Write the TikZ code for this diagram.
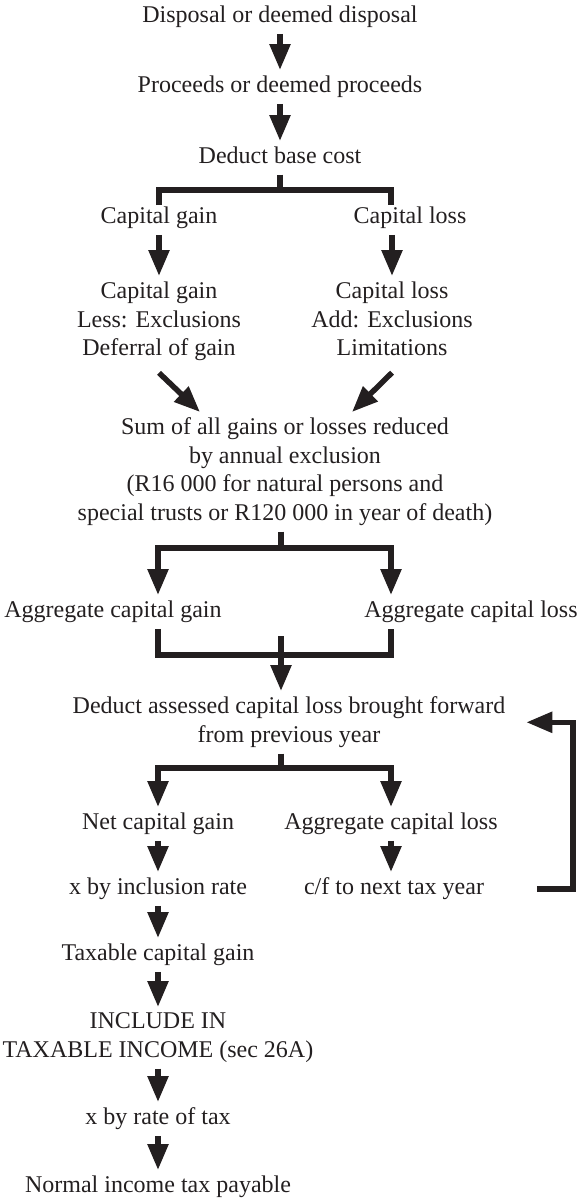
\documentclass[tikz,border=0pt]{standalone}
\usepackage{fontspec}
\setmainfont{Liberation Serif}
\usepackage{xcolor}
\usetikzlibrary{arrows.meta}
\definecolor{ink}{RGB}{35,31,32}
\newcommand{\lstrut}{\rule[-5pt]{0pt}{21pt}}

\begin{document}
\begin{tikzpicture}[x=1pt,y=-1pt,
	txt/.style={anchor=north,align=center,inner xsep=2pt,inner ysep=6pt,outer sep=0pt,text=ink,
		font=\fontsize{24}{28.5}\selectfont,
		execute at begin node=\lstrut,execute at end node=\lstrut},
	bar/.style={draw=ink,line width=5.5pt},
	arr/.style={bar,-{Triangle[width=20pt,length=26pt]}}]
	\useasboundingbox (0,0) rectangle (581,1200);
	\node[txt] (disposal) at (280,0) {Disposal or deemed disposal};
	\node[txt] (proceeds) at (280,70) {Proceeds or deemed proceeds};
	\node[txt] (deduct) at (280,141) {Deduct base cost};
	\node[txt] (capgain) at (159,201) {Capital gain};
	\node[txt] (caploss) at (410,201) {Capital loss};
	\node[txt] (gainblock) at (159,276) {Capital gain\\Less: Exclusions\\Deferral of gain};
	\node[txt] (lossblock) at (392,276) {Capital loss\\Add: Exclusions\\Limitations};
	\node[txt] (sum) at (285,412) {Sum of all gains or losses reduced\\by annual exclusion\\(R16 000 for natural persons and\\special trusts or R120 000 in year of death)};
	\node[txt] (agggain) at (113,595) {Aggregate capital gain};
	\node[txt] (aggloss) at (471,595) {Aggregate capital loss};
	\node[txt] (assessed) at (289,691) {Deduct assessed capital loss brought forward\\from previous year};
	\node[txt] (netgain) at (158,807) {Net capital gain};
	\node[txt] (aggloss2) at (391,807) {Aggregate capital loss};
	\node[txt] (xincl) at (158,872) {x by inclusion rate};
	\node[txt] (carry) at (394,872) {c/f to next tax year};
	\node[txt] (taxable) at (158,938) {Taxable capital gain};
	\node[txt] (include) at (158,1007) {INCLUDE IN\\TAXABLE INCOME (sec 26A)};
	\node[txt] (xrate) at (158,1102) {x by rate of tax};
	\node[txt] (payable) at (158,1170) {Normal income tax payable};
	% columns and joints
	\coordinate (colL) at (158,0);
	\coordinate (colR) at (391,0);
	\coordinate (b1) at (280,190);
	\coordinate (b1l) at (159,205);
	\coordinate (b1r) at (391,205);
	\coordinate (b2) at (281,548);
	\coordinate (b3) at (281,655);
	\coordinate (b3top) at (281,636);
	\coordinate (b4) at (281,768);
	\coordinate (loop) at (573,0);
	% draw the lines
	\draw[arr] (disposal.south) -- (proceeds.north);
	\draw[arr] (proceeds.south) -- (deduct.north);
	\draw[bar] (deduct.south) -- (b1);
	\draw[bar] (b1l) |- (b1) -| (b1r);
	\draw[arr] (capgain.south) -- (gainblock.north);
	\draw[arr] (caploss.south -| lossblock.north) -- (lossblock.north);
	\draw[arr] ([yshift=-6pt]gainblock.south) -- ([xshift=-85pt]sum.north);
	\draw[arr] ([yshift=-6pt]lossblock.south) -- ([xshift=67pt]sum.north);
	\draw[bar] (sum.south -| b2) -- (b2);
	\draw[arr] (b2) -| (agggain.north -| colL);
	\draw[arr] (b2) -| (aggloss.north -| colR);
	\draw[bar] (agggain.south -| colL) |- (b3) -| (aggloss.south -| colR);
	\draw[arr] (b3top) -- (assessed.north -| b3top);
	\draw[bar] (assessed.south -| b4) -- (b4);
	\draw[arr] (b4) -| (netgain.north);
	\draw[arr] (b4) -| (aggloss2.north);
	\draw[arr] (netgain.south) -- (xincl.north);
	\draw[arr] (aggloss2.south) -- (carry.north -| aggloss2.north);
	\draw[arr] (xincl.south) -- (taxable.north);
	\draw[arr] (taxable.south) -- (include.north);
	\draw[arr] (include.south) -- (xrate.north);
	\draw[arr] (xrate.south) -- (payable.north);
	% carried forward loss
	\draw[arr] ([xshift=51pt]carry.east) -| (loop |- assessed.east) -- ([xshift=19pt]assessed.east);
\end{tikzpicture}
\end{document}
